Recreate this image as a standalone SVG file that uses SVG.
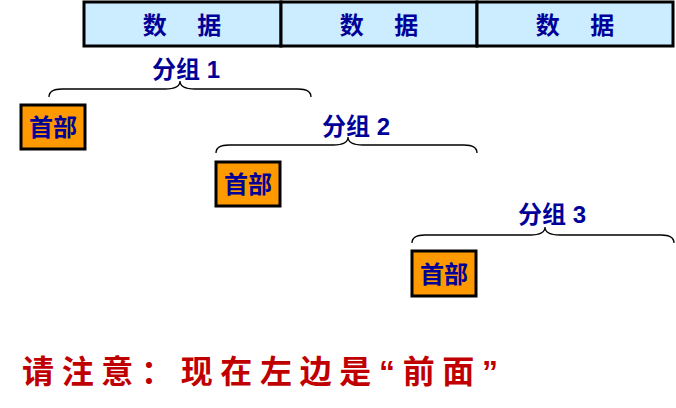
<svg xmlns="http://www.w3.org/2000/svg" width="676" height="408" viewBox="0 0 676 408">
<style>
.cell{fill:#CCECFF;stroke:#000;stroke-width:3}
.hdr{fill:#FF9900;stroke:#000;stroke-width:3}
.t{font-family:"Liberation Sans","Noto Sans CJK SC",sans-serif;font-weight:bold;fill:#000099;font-size:24px;text-anchor:middle}
.br{fill:none;stroke:#000;stroke-width:1.3}
</style>
<g id="data">
<rect class="cell" x="84" y="2" width="197" height="44"/>
<rect class="cell" x="281" y="2" width="196" height="44"/>
<rect class="cell" x="477" y="2" width="196" height="44"/>
<text class="t" x="182" y="34">数　  据</text>
<text class="t" x="379" y="34">数　  据</text>
<text class="t" x="575" y="34">数　  据</text>
</g>
<g id="connectors">
<path class="br" d="M49,97 Q49,89 62,89 L165,89 Q180,89 180,81 Q180,89 195,89 L298,89 Q311,89 311,97"/>
<path class="br" d="M216,153 Q216,145 229,145 L333,145 Q348,145 348,137 Q348,145 363,145 L464,145 Q477,145 477,153"/>
<path class="br" d="M412,243 Q412,235 425,235 L530,235 Q545,235 545,227 Q545,235 560,235 L661,235 Q674,235 674,243"/>
</g>
<g id="p1"><text class="t" x="186" y="78">分组 1</text><rect class="hdr" x="21" y="105" width="64" height="44"/><text class="t" x="53" y="136">首部</text></g>
<g id="p2"><text class="t" x="356" y="135">分组 2</text><rect class="hdr" x="216" y="162" width="64" height="44"/><text class="t" x="248" y="193">首部</text></g>
<g id="p3"><text class="t" x="552" y="223">分组 3</text><rect class="hdr" x="412" y="251" width="64" height="45"/><text class="t" x="444" y="283">首部</text></g>
<text x="22" y="383" font-family="'Liberation Sans','Noto Sans CJK SC',sans-serif" font-weight="bold" font-size="32" fill="#C00000" textLength="476" lengthAdjust="spacing">请注意：现在左边是“前面”</text>
</svg>
